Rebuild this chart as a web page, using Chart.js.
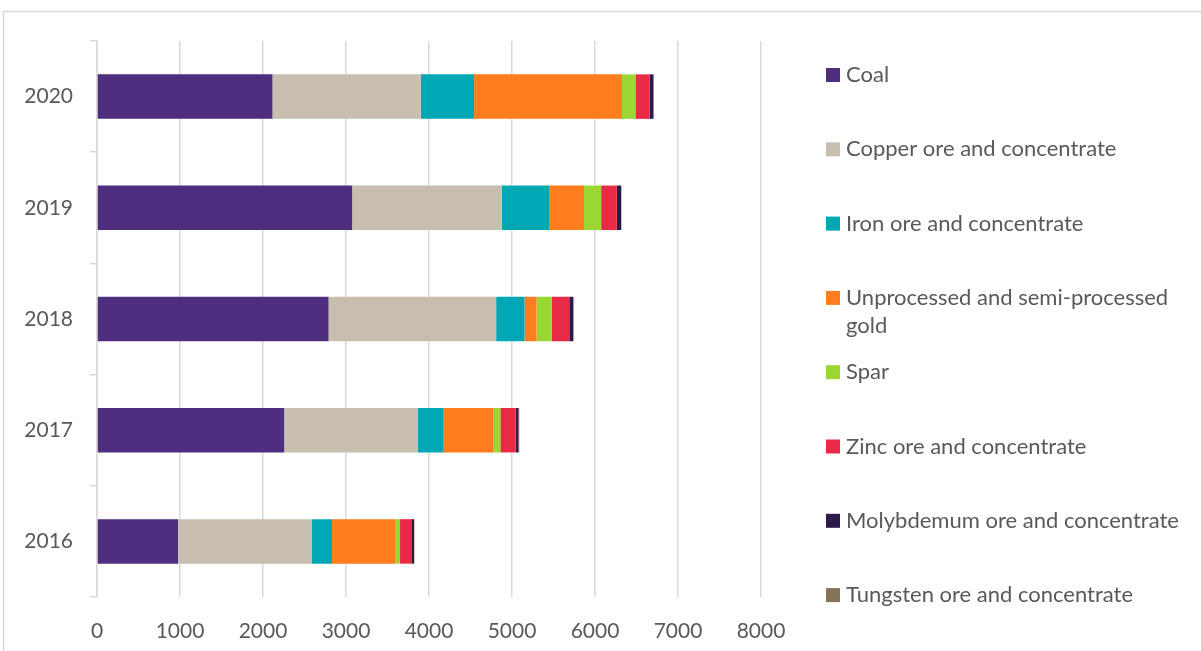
<!DOCTYPE html>
<html>
<head>
<meta charset="utf-8">
<script src="https://cdn.jsdelivr.net/npm/chart.js@4/dist/chart.umd.min.js"></script>
<style>
  html, body { margin: 0; padding: 0; background: #fff; }
  #wrap { width: 1201px; height: 651px; position: relative; }
</style>
</head>
<body>
<div id="wrap"><canvas id="chart" width="1201" height="651"></canvas></div>
<script>
// mineral exports by year, stacked
const years = ['2016', '2017', '2018', '2019', '2020']
const coal = [976, 2255, 2790, 3074, 2114]
const copper = [1610, 1613, 2019, 1803, 1787]
const iron = [245, 309, 342, 569, 642]
const gold = [759, 602, 145, 421, 1782]
const spar = [61, 81, 184, 207, 162]
const zinc = [144, 184, 210, 189, 170]
const molybdenum = [24, 32, 48, 52, 47]
const tungsten = [5, 12, 4, 3, 3]

const xTicks = [0, 1000, 2000, 3000, 4000, 5000, 6000, 7000, 8000]

const FONT = 'Lato'
const TEXT = '#595959'
const LINE = '#d9d9d9'

let series = [
    {label: 'Coal', data: coal, color: '#4f2d7f'},
    {label: 'Copper ore and concentrate', data: copper, color: '#c8beaf'},
    {label: 'Iron ore and concentrate', data: iron, color: '#00a7b5'},
    {label: 'Unprocessed and semi-processed gold', data: gold, color: '#ff7d1f'},
    {label: 'Spar', data: spar, color: '#9bd733'},
    {label: 'Zinc ore and concentrate', data: zinc, color: '#e92a47'},
    {label: 'Molybdemum ore and concentrate', data: molybdenum, color: '#2b1a4b'},
    {label: 'Tungsten ore and concentrate', data: tungsten, color: '#857459'},
]

// thin frame on the top and left edges
const framePlugin = {
    id: 'frame',
    beforeDraw(chart) {
        let ctx = chart.ctx
        ctx.save()
        ctx.strokeStyle = LINE
        ctx.lineWidth = 1.5
        ctx.beginPath()
        ctx.moveTo(3.5, chart.height)
        ctx.lineTo(3.5, 11.5)
        ctx.lineTo(chart.width, 11.5)
        ctx.stroke()
        ctx.restore()
    }
}

// legend on the right, one entry per row, long names wrap
const sideLegend = {
    id: 'sideLegend',
    afterDraw(chart) {
        let ctx = chart.ctx
        let boxX = 826, textX = 846, y0 = 75, step = 74.3, lineH = 28, maxW = 345
        ctx.save()
        ctx.font = '22px ' + FONT
        ctx.textBaseline = 'middle'
        chart.data.datasets.forEach((ds, i) => {
            let y = y0 + i * step
            ctx.fillStyle = ds.backgroundColor
            ctx.fillRect(boxX, y - 7, 14, 14)
            // word wrap
            let words = ds.label.split(' ')
            let lines = []
            let cur = ''
            words.forEach(w => {
                let test = cur ? cur + ' ' + w : w
                if (ctx.measureText(test).width > maxW && cur) {
                    lines.push(cur)
                    cur = w
                } else {
                    cur = test
                }
            })
            lines.push(cur)
            ctx.fillStyle = TEXT
            lines.forEach((ln, k) => ctx.fillText(ln, textX, y + k * lineH))
        })
        ctx.restore()
    }
}

new Chart(document.getElementById('chart'), {
    type: 'bar',
    data: {
        labels: years,
        datasets: series.map(s => ({
            label: s.label,
            data: s.data,
            backgroundColor: s.color,
            borderWidth: 0,
            barPercentage: 0.4,
            categoryPercentage: 1
        }))
    },
    options: {
        indexAxis: 'y',
        responsive: false,
        animation: false,
        layout: {padding: {top: 41, right: 440, left: 0, bottom: 0}},
        plugins: {
            legend: {display: false},
            tooltip: {enabled: false}
        },
        scales: {
            x: {
                stacked: true,
                min: 0,
                max: 8000,
                afterBuildTicks: scale => { scale.ticks = xTicks.map(v => ({value: v})) },
                afterFit: scale => { scale.height = 54 },
                grid: {color: LINE, lineWidth: 1.5, drawTicks: false},
                border: {display: false},
                ticks: {color: TEXT, font: {family: FONT, size: 21}, padding: 22, callback: v => String(v)}
            },
            y: {
                stacked: true,
                reverse: true,
                afterFit: scale => { scale.width = 97 },
                grid: {color: LINE, lineWidth: 1.5, drawOnChartArea: false, tickLength: 7, offset: true},
                border: {display: true, color: LINE, width: 1.5},
                ticks: {color: TEXT, font: {family: FONT, size: 21}, padding: 17}
            }
        }
    },
    plugins: [framePlugin, sideLegend]
})
</script>
</body>
</html>
